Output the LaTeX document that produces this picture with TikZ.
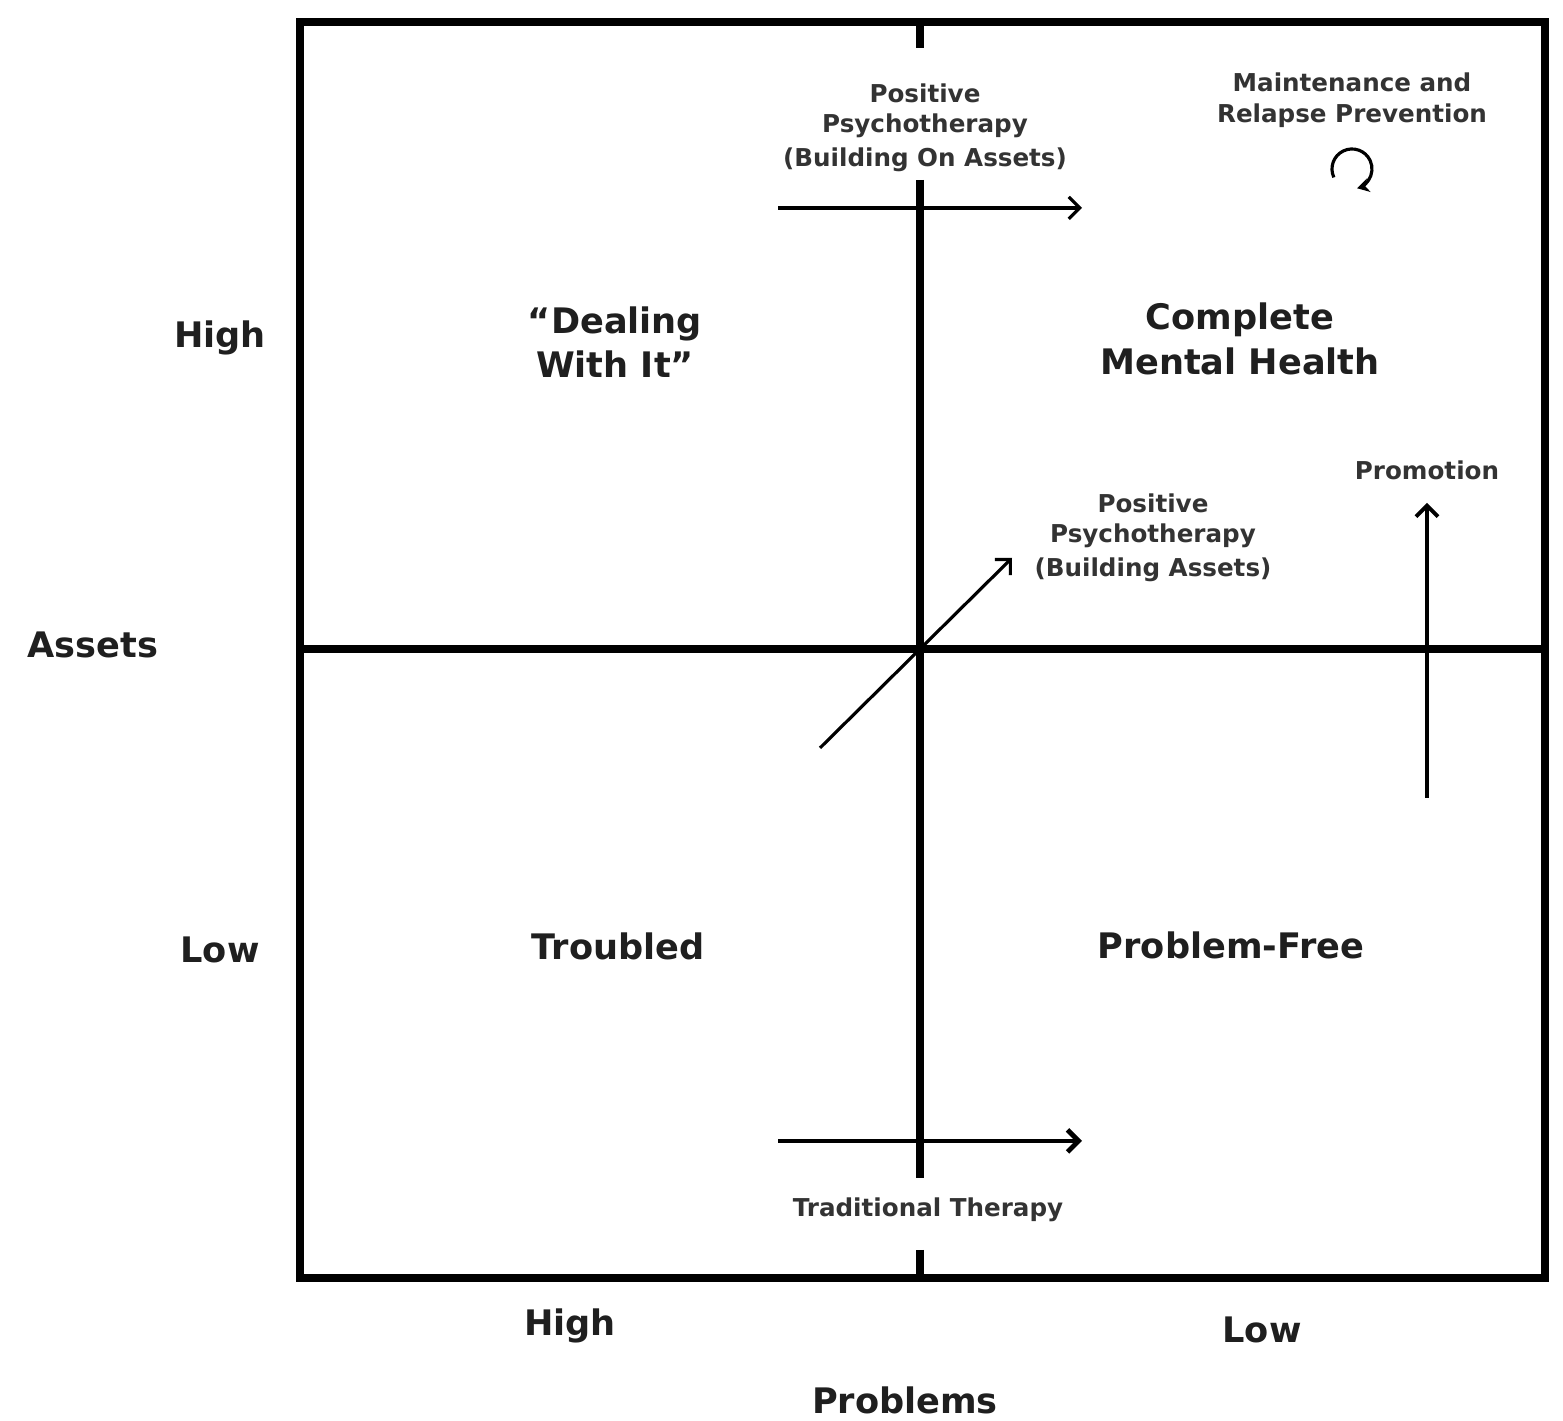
\documentclass[tikz,border=0pt]{standalone}
\usepackage{fontspec}
\setmainfont{DejaVu Sans}
\usetikzlibrary{arrows.meta,positioning,calc}

\tikzset{
  small/.style={align=center,text=black!80,font=\bfseries\fontsize{7}{8.7}\selectfont},
  big/.style={align=center,text=black!88,font=\bfseries\fontsize{10}{12.6}\selectfont},
  tip/.style={-{Straight Barb[length=1.1mm,width=2.2mm]}}
}

\begin{document}
\begin{tikzpicture}[x=1cm,y=1cm]
  \useasboundingbox (0,0) rectangle (15.63,14.21);
  % 枠
  \draw[line width=2.3pt] (3.00,13.99) rectangle (15.45,1.43);
  % 軸
  \draw[line width=2.5pt] (2.98,7.72) -- (15.48,7.72);
  \draw[line width=2.3pt] (9.20,13.99) -- (9.20,13.73);
  \draw[line width=2.3pt] (9.20,12.41) -- (9.20,2.43);
  \draw[line width=2.3pt] (9.20,1.71) -- (9.20,1.43);
  % 象限
  \node[big] (deal) at (6.15,10.79) {“Dealing\\ With It”};
  \node[big] (cmh) at (12.40,10.82) {Complete\\ Mental Health};
  \node[big] (trou) at (6.18,4.75) {Troubled};
  \node[big] (pfree) at (12.31,4.76) {Problem-Free};
  % 軸ラベル
  \node[big] (ahigh) at (2.20,10.83) {High};
  \node[big] (assets) at (0.93,7.76) {Assets};
  \node[big] (alow) at (2.20,4.71) {Low};
  \node[big] (phigh) at (5.70,0.95) {High};
  \node[big] (plow) at (12.62,0.91) {Low};
  \node[big] (probs) at (9.05,0.21) {Problems};
  % 介入
  \node[small] (ppon) at (9.25,12.93) {Positive\\ Psychotherapy\\[1pt] (Building On Assets)};
  \node[small] (maint) at (13.52,13.21) {Maintenance and\\ Relapse Prevention};
  \node[small] (ppb) at (11.53,8.83) {Positive\\ Psychotherapy\\[1pt] (Building Assets)};
  \node[small] (promo) at (14.27,9.51) {Promotion};
  \node[small] (trad) at (9.28,2.11) {Traditional Therapy};
  % 矢印
  \coordinate (a1) at (7.78,12.13); \coordinate (b1) at (10.82,12.13);
  \coordinate (a2) at (7.78,2.80);  \coordinate (b2) at (10.82,2.80);
  \coordinate (a3) at (8.20,6.73);  \coordinate (b3) at (10.12,8.63);
  \coordinate (a4) at (14.27,6.23); \coordinate (b4) at (14.27,9.18);
  \coordinate (loop) at (13.52,12.52);
  \draw[tip,line width=0.9pt] (a1) -- (b1);
  \draw[tip,line width=1.4pt] (a2) -- (b2);
  \draw[tip,line width=0.9pt] (a3) -- (b3);
  \draw[tip,line width=1.1pt] (a4) -- (b4);
  \draw[-{Stealth[length=1.2mm,width=1.4mm]},line width=0.9pt] ($(loop)+(205:0.2)$) arc[start angle=205,end angle=-75,radius=0.2];
\end{tikzpicture}
\end{document}
